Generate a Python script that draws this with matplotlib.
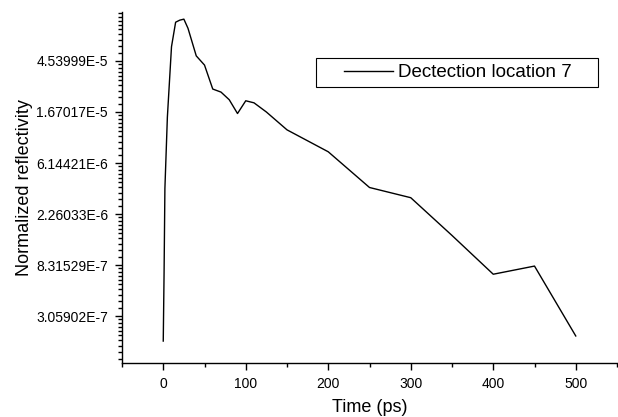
import numpy as np
import matplotlib.pyplot as plt
from matplotlib.ticker import FixedLocator, FuncFormatter, MultipleLocator
from matplotlib.patches import Rectangle

plt.rcParams["font.family"] = ["Liberation Sans", "DejaVu Sans"]

# Time (ps) and normalized reflectivity
time_ps = [0, 1, 2, 5, 10, 15, 20, 25, 30, 40, 50, 60, 70, 80, 90,
           100, 110, 125, 150, 200, 250, 300, 350, 400, 450, 500]
reflectivity = [1.874e-7, 7.085e-7, 3.727e-6, 1.511e-5, 6.007e-5, 9.707e-5,
                1.0104e-4, 1.0308e-4, 8.610e-5, 5.017e-5, 4.191e-5, 2.619e-5,
                2.467e-5, 2.123e-5, 1.621e-5, 2.081e-5, 1.999e-5, 1.670e-5,
                1.177e-5, 7.656e-6, 3.802e-6, 3.113e-6, 1.485e-6, 6.946e-7,
                8.150e-7, 2.071e-7]
series_label = "Dectection location 7"

# major ticks on the natural-log axis: e^-15 ... e^-10
major_exps = [-15, -14, -13, -12, -11, -10]


def sci_label(v, pos=None):
    mant, exp = f"{v:.5E}".split("E")
    return f"{mant}E{int(exp)}"


fig = plt.figure(figsize=(6.18, 4.17), dpi=100)
ax = fig.add_axes([122 / 618, 1 - 363 / 417, 495 / 618, 351 / 417])

(line,) = ax.plot(time_ps, reflectivity, color="black", linewidth=1.0,
                  label=series_label)

ax.set_yscale("log", base=np.e)
ax.set_ylim(np.exp(-15.92), np.exp(-9.04))
ax.set_xlim(-50, 550)

majors = [np.exp(k) for k in major_exps]
ax.yaxis.set_major_locator(FixedLocator(majors))
ax.yaxis.set_major_formatter(FuncFormatter(sci_label))
minors = []
for k in range(-17, -8):
    lo, hi = np.exp(k), np.exp(k + 1)
    minors += [lo + i * (hi - lo) / 10 for i in range(1, 10)]
ax.yaxis.set_minor_locator(FixedLocator(minors))

ax.xaxis.set_major_locator(FixedLocator([0, 100, 200, 300, 400, 500]))
ax.xaxis.set_minor_locator(MultipleLocator(50))

for side in ("top", "right"):
    ax.spines[side].set_visible(False)
for side in ("left", "bottom"):
    ax.spines[side].set_linewidth(1.0)

ax.tick_params(axis="both", which="major", direction="out", length=5,
               width=1.0, labelsize=10)
ax.tick_params(axis="both", which="minor", direction="out", length=3,
               width=1.0)
ax.tick_params(axis="y", which="minor", labelleft=False)
ax.tick_params(axis="x", which="minor", labelbottom=False)
ax.tick_params(axis="y", which="major", pad=5)
ax.tick_params(axis="x", which="major", pad=5)

ax.set_xlabel("Time (ps)", fontsize=13, labelpad=6)
ax.set_ylabel("Normalized reflectivity", fontsize=13, labelpad=2)

# legend box, drawn as a plain rectangle around a frameless legend
fig.patches.append(Rectangle((316 / 618, 1 - 87 / 417), 282 / 618, 29 / 417,
                             transform=fig.transFigure, fill=False,
                             edgecolor="black", linewidth=0.8))
ax.legend(loc="center", bbox_to_anchor=(458 / 618, 1 - 72.5 / 417),
          bbox_transform=fig.transFigure, frameon=False, fontsize=13.5,
          handlelength=2.6, handletextpad=0.3)

fig.savefig("out.png", dpi=100)
